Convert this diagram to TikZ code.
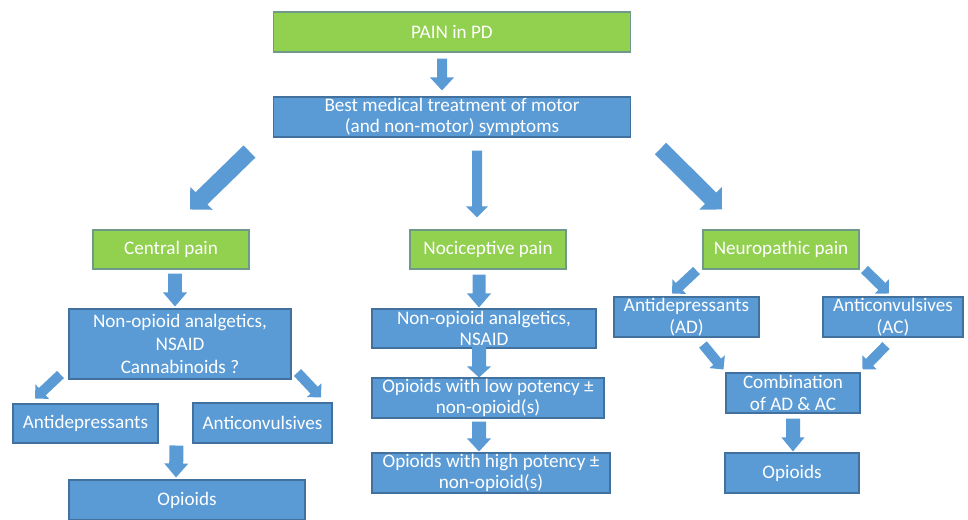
\documentclass[tikz,border=0pt]{standalone}
\usepackage{fontspec}
\setmainfont{Carlito}
\usetikzlibrary{calc}
\definecolor{bfill}{HTML}{5B9BD5}
\definecolor{bline}{HTML}{41719C}
\definecolor{gfill}{HTML}{92D050}
\definecolor{gline}{HTML}{6F9A8A}
\newcommand\fatarr[5]{%
  \path (#1) coordinate (fa) (#2) coordinate (fb);
  \path ($(fb)!#5!(fa)$) coordinate (fh);
  \fill[arrowfill] ($(fa)!#3!90:(fb)$) -- ($(fh)!#3!90:(fb)$) -- ($(fh)!#4!90:(fb)$) -- (fb)
    -- ($(fh)!#4!-90:(fb)$) -- ($(fh)!#3!-90:(fb)$) -- ($(fa)!#3!-90:(fb)$) -- cycle;}
\tikzset{
  box/.style={rectangle, inner sep=0pt, text=white, align=center, line width=0.6pt,
    font=\fontsize{10.9}{12.3}\selectfont},
  bbox/.style={box, fill=bfill, draw=bline},
  gbox/.style={box, fill=gfill, draw=gline},
  arrowfill/.style={fill=bfill},
}
\begin{document}
\begin{tikzpicture}[x=0.02cm,y=-0.02cm]
\useasboundingbox (0,0) rectangle (968,520);
% nodes
\node[gbox, minimum width=7.16cm, minimum height=0.80cm] (pain) at (452,32) {PAIN in PD};
\node[bbox, minimum width=7.16cm, minimum height=0.80cm] (best) at (452,117) {Best medical treatment of motor\\(and non-motor) symptoms};
\node[gbox, minimum width=3.12cm, minimum height=0.78cm] (central) at (171,249.5) {Central pain};
\node[gbox, minimum width=3.12cm, minimum height=0.78cm] (noci) at (488,249.5) {Nociceptive pain};
\node[gbox, minimum width=3.12cm, minimum height=0.78cm] (neuro) at (781,249.5) {Neuropathic pain};
\node[bbox, minimum width=4.44cm, minimum height=1.40cm, font=\fontsize{10.9}{13}\selectfont] (cnon) at (180,344) {Non-opioid analgetics,\\NSAID\\Cannabinoids ?};
\node[bbox, minimum width=2.90cm, minimum height=0.78cm] (cad) at (85.5,423.5) {Antidepressants};
\node[bbox, minimum width=2.78cm, minimum height=0.80cm] (cac) at (262.5,423) {Anticonvulsives};
\node[bbox, minimum width=4.72cm, minimum height=0.80cm] (copi) at (187,500) {Opioids};
\node[bbox, minimum width=4.48cm, minimum height=0.78cm] (nnon) at (484,328.5) {Non-opioid analgetics,\\NSAID};
\node[bbox, minimum width=4.64cm, minimum height=0.80cm] (nlow) at (488,398) {Opioids with low potency ±\\non-opioid(s)};
\node[bbox, minimum width=4.76cm, minimum height=0.80cm] (nhigh) at (491,473) {Opioids with high potency ±\\non-opioid(s)};
\node[bbox, minimum width=2.90cm, minimum height=0.80cm] (rad) at (686.5,317) {Antidepressants\\(AD)};
\node[bbox, minimum width=2.80cm, minimum height=0.80cm] (rac) at (893,317) {Anticonvulsives\\(AC)};
\node[bbox, minimum width=2.68cm, minimum height=0.80cm] (rcomb) at (793,393) {Combination\\of AD \& AC};
\node[bbox, minimum width=2.68cm, minimum height=0.80cm] (ropi) at (792,473) {Opioids};
\coordinate (cmid) at ($(cad.south east)!0.5!(cac.south west)$);
% arrows
\fatarr{[shift={(-10,6)}]pain.south}{[shift={(-10,-6)}]best.north}{0.1cm}{0.24cm}{0.26cm}
\fatarr{[shift={(25,13)}]best.south}{[shift={(-11,-12)}]noci.north}{0.1cm}{0.22cm}{0.22cm}
\fatarr{[shift={(-23,14)}]best.south west}{[shift={(19,-20)}]central.north}{0.17cm}{0.32cm}{0.32cm}
\fatarr{[shift={(29,11)}]best.south east}{[shift={(-59,-20)}]neuro.north}{0.16cm}{0.32cm}{0.32cm}
\fatarr{[shift={(4,4)}]central.south}{[shift={(-5,-2)}]cnon.north}{0.14cm}{0.24cm}{0.28cm}
\fatarr{[shift={(-8,-5)}]cnon.south west}{[shift={(-50.5,-5)}]cad.north}{0.1cm}{0.2cm}{0.2cm}
\fatarr{[shift={(6,-7)}]cnon.south east}{[shift={(58.5,-5)}]cac.north}{0.1cm}{0.2cm}{0.2cm}
\fatarr{[shift={(1,2)}]cmid}{[shift={(-11,-2)}]copi.north}{0.14cm}{0.24cm}{0.28cm}
\fatarr{[shift={(-9,5)}]noci.south}{[shift={(-5,-1)}]nnon.north}{0.13cm}{0.24cm}{0.28cm}
\fatarr{[shift={(-5,-3)}]nnon.south}{[shift={(-9,0)}]nlow.north}{0.14cm}{0.24cm}{0.22cm}
\fatarr{[shift={(-9,3)}]nlow.south}{[shift={(-12,-1)}]nhigh.north}{0.14cm}{0.24cm}{0.26cm}
\fatarr{[shift={(-6,1)}]neuro.south west}{[shift={(-14.5,-3)}]rad.north}{0.1cm}{0.2cm}{0.2cm}
\fatarr{[shift={(5,0)}]neuro.south east}{[shift={(-4,-3)}]rac.north}{0.1cm}{0.2cm}{0.2cm}
\fatarr{[shift={(16.5,7)}]rad.south}{[shift={(-2,-3)}]rcomb.north west}{0.1cm}{0.2cm}{0.2cm}
\fatarr{[shift={(-7,8)}]rac.south}{[shift={(2,-3)}]rcomb.north east}{0.1cm}{0.2cm}{0.2cm}
\fatarr{[shift={(0,5)}]rcomb.south}{[shift={(1,-1)}]ropi.north}{0.14cm}{0.23cm}{0.28cm}
\end{tikzpicture}
\end{document}
